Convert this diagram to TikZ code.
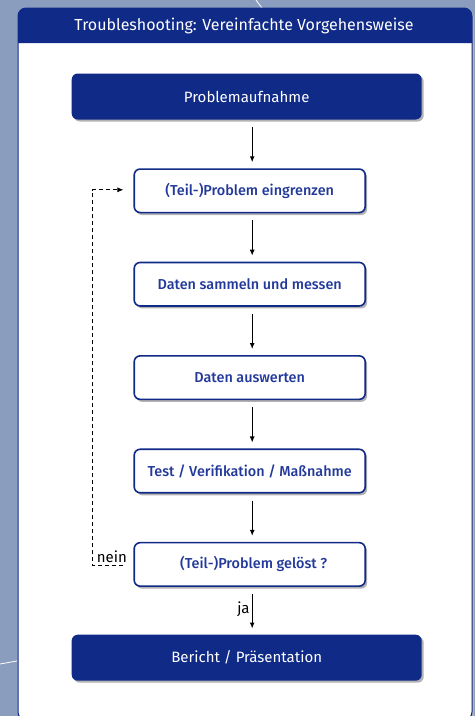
\documentclass[tikz,border=0pt]{standalone}
\usepackage{fontspec}
\setmainfont{Fira Sans}
\newfontfamily\boxfont{Fira Sans Medium}
\usetikzlibrary{arrows.meta,shadows}

\definecolor{panelblue}{HTML}{102A88}
\definecolor{boxtext}{HTML}{22399A}
\definecolor{backblue}{HTML}{8A9DBF}

\begin{document}
\begin{tikzpicture}[x=1pt,y=-1pt,>={Latex[length=6pt,width=5pt]},
	darkbox/.style={fill=panelblue,text=white,rounded corners=6pt,minimum width=350pt,minimum height=46pt,font=\fontsize{15}{18}\selectfont,drop shadow={shadow xshift=2pt,shadow yshift=-2pt,fill=black!30,opacity=1}},
	stepbox/.style={draw=panelblue,line width=1.6pt,fill=white,text=boxtext,rounded corners=6pt,minimum width=231pt,minimum height=43.5pt,font=\boxfont\fontsize{14.4}{17}\selectfont,drop shadow={shadow xshift=2pt,shadow yshift=-2.5pt,fill=black!30,opacity=1}},
	flow/.style={->,line width=1.1pt,shorten <=7pt,shorten >=6pt},
	answer/.style={font=\fontsize{15}{18}\selectfont,inner sep=2pt}]
	
	\useasboundingbox (0,0) rectangle (475,716);
	
	% Background and panel
	\fill[backblue] (0,0) rectangle (475,716);
	\draw[white,line width=0.8pt] (256,0) -- (262,8);
	\draw[white,line width=0.8pt] (0,664) -- (17,661);
	\fill[black!30] (20,10) [rounded corners=8pt] -- (474,10) -- (474,722) -- (20,722) [sharp corners] -- cycle;
	\draw[panelblue,fill=white,line width=1pt] (18,8) [rounded corners=8pt] -- (472,8) -- (472,720) -- (18,720) -- cycle;
	\fill[panelblue] (18,43) [rounded corners=8pt] -- (18,8) -- (472,8) [sharp corners] -- (472,43) -- cycle;
	\node[text=white,font=\fontsize{16}{19}\selectfont] (title) at (244,25.5) {Troubleshooting: Vereinfachte Vorgehensweise};
	
	% Draw nodes
	\node[darkbox] (intake) at (246.7,96.5) {Problemaufnahme};
	\node[stepbox] (narrow) at (249.7,190.8) {(Teil-)Problem eingrenzen};
	\node[stepbox] (collect) at (249.7,284.2) {Daten sammeln und messen};
	\node[stepbox] (evaluate) at (249.7,377.6) {Daten auswerten};
	\node[stepbox] (verify) at (249.7,471) {Test / Verifikation / Maßnahme};
	\node[stepbox] (solved) at (249.7,564.4) {\hspace{8pt}(Teil-)Problem gelöst ?};
	\node[darkbox] (report) at (246.7,657.7) {Bericht / Präsentation};
	
	% Draw arrows down the chain
	\draw[flow] ([xshift=5.5pt]intake.south) to ([xshift=2.5pt]narrow.north);
	\draw[flow] ([xshift=2.5pt]narrow.south) to ([xshift=2.5pt]collect.north);
	\draw[flow] ([xshift=2.5pt]collect.south) to ([xshift=2.5pt]evaluate.north);
	\draw[flow] ([xshift=2.5pt]evaluate.south) to ([xshift=2.5pt]verify.north);
	\draw[flow] ([xshift=2.5pt]verify.south) to ([xshift=2.5pt]solved.north);
	\draw[flow] ([xshift=2.5pt]solved.south) to node[left,answer,yshift=1pt] {ja} ([xshift=5.5pt]report.north);
	
	% Loop back when not solved
	\draw[->,dashed,line width=0.8pt,dash pattern=on 4pt off 3pt] ([xshift=-10pt,yshift=-1pt]solved.west) -- node[above,answer,xshift=4pt] {nein} ++(-31,0) |- ([xshift=-10pt,yshift=1pt]narrow.west);
	
\end{tikzpicture}
\end{document}
